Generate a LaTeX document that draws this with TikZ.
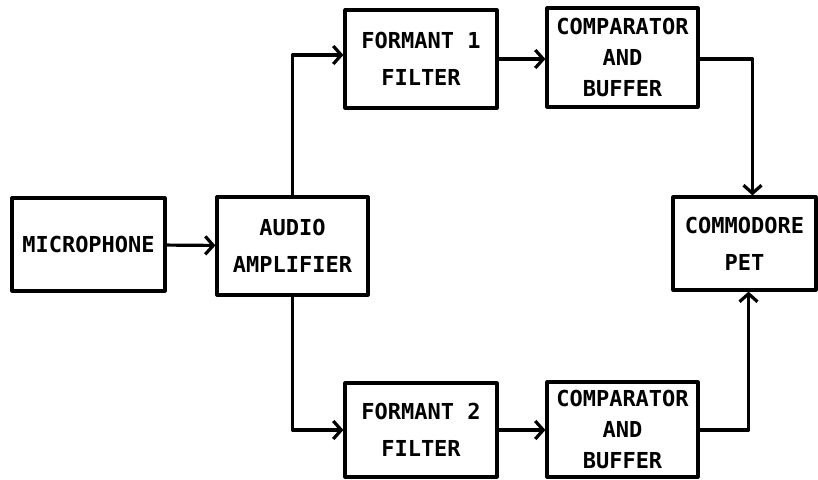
\documentclass[tikz,border=0pt]{standalone}
\usepackage{fontspec}
\setmonofont{DejaVu Sans Mono}
\usetikzlibrary{arrows.meta}

\begin{document}
\begin{tikzpicture}[x=1pt, y=-1pt, line width=3.2pt, line join=round,
	block_node/.style={draw, rectangle, inner sep=0pt, align=center, minimum width=151pt, minimum height=96pt, font=\ttfamily\bfseries\fontsize{22}{37}\selectfont},
	flow_line/.style={-{Straight Barb[length=8pt,width=18pt]}}]
				\useasboundingbox (0,0) rectangle (818,479);
				\node[block_node, minimum width=153pt, minimum height=93pt](mic) at (88.5,244.5){MICROPHONE};
				\node[block_node, minimum height=98pt](amp) at (292.5,246){AUDIO\\AMPLIFIER};
				\node[block_node, minimum width=152pt, minimum height=98pt](f1) at (421,59){FORMANT 1\\FILTER};
				\node[block_node, minimum height=99pt, font=\ttfamily\bfseries\fontsize{22}{31}\selectfont](c1) at (622.5,57.5){COMPARATOR\\AND\\BUFFER};
				\node[block_node, minimum width=143pt, minimum height=93pt](pet) at (744.5,243.5){COMMODORE\\PET};
				\node[block_node, minimum width=152pt, minimum height=94pt](f2) at (421,430){FORMANT 2\\FILTER};
				\node[block_node, minimum height=95pt, font=\ttfamily\bfseries\fontsize{22}{31}\selectfont](c2) at (622.5,429.5){COMPARATOR\\AND\\BUFFER};
				\draw[flow_line](mic) -- (amp);
				\draw[flow_line](amp.north) |- ([yshift=4]f1.west);
				\draw[flow_line](amp.south) |- (f2.west);
				\draw[flow_line](f1.east) -- (c1.west |- f1.east);
				\draw[flow_line](f2.east) -- (c2.west |- f2.east);
				\draw[flow_line](c1.east |- f1.east) -| ([xshift=8]pet.north);
				\draw[flow_line](c2.east |- f2.east) -| ([xshift=4]pet.south);
			\end{tikzpicture}
\end{document}
